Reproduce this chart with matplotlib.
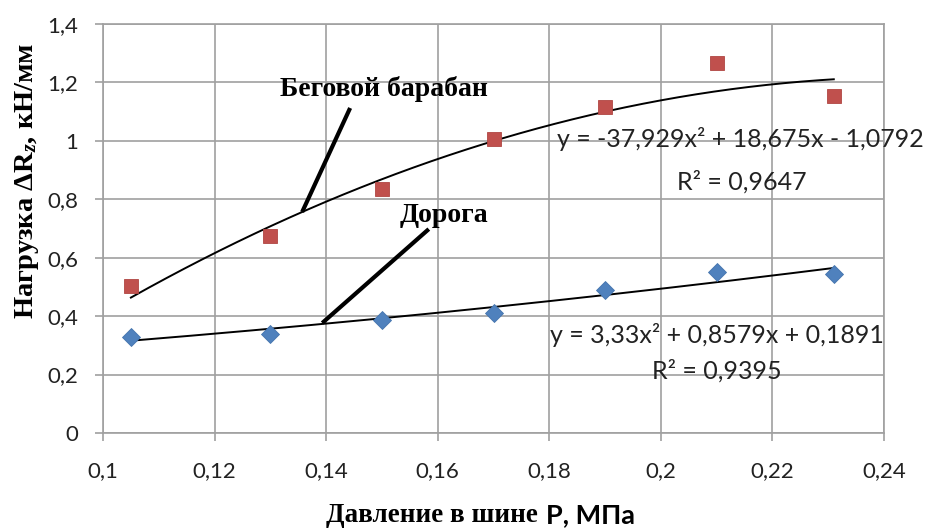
import numpy as np
import matplotlib
matplotlib.use("Agg")
import matplotlib.pyplot as plt

# Measured data
pressure = [0.105, 0.13, 0.15, 0.17, 0.19, 0.21, 0.231]
drum_load = [0.503, 0.674, 0.835, 1.006, 1.116, 1.266, 1.153]
road_load = [0.329, 0.339, 0.387, 0.411, 0.489, 0.551, 0.544]

# Quadratic trend coefficients (a, b, c) for y = a*x^2 + b*x + c
drum_coef = [-37.929, 18.675, -1.0792]
road_coef = [3.33, 0.8579, 0.1891]
drum_r2 = 0.9647
road_r2 = 0.9395

x_ticks = [0.1, 0.12, 0.14, 0.16, 0.18, 0.2, 0.22, 0.24]
y_ticks = [0, 0.2, 0.4, 0.6, 0.8, 1.0, 1.2, 1.4]

plt.rcParams["mathtext.fontset"] = "custom"
plt.rcParams["mathtext.rm"] = "Liberation Serif:bold"
plt.rcParams["mathtext.it"] = "Liberation Serif:italic:bold"
plt.rcParams["mathtext.bf"] = "Liberation Serif:bold"

W, H = 930, 528
fig = plt.figure(figsize=(W / 100, H / 100), dpi=100)
ax = fig.add_axes([103 / W, 1 - 433 / H, (884 - 103) / W, (433 - 24) / H])

grid_c = "#a0a0a0"
ax.set_xlim(0.1, 0.24)
ax.set_ylim(0, 1.4)
ax.set_xticks(x_ticks)
ax.set_yticks(y_ticks)


def comma(v):
    s = f"{v:g}"
    return s.replace(".", ",")


ax.set_xticklabels([comma(v) for v in x_ticks], fontsize=16, family="Lato")
ax.set_yticklabels([comma(v) for v in y_ticks], fontsize=16, family="Lato")
ax.tick_params(axis="both", direction="out", length=6, width=1.2, color=grid_c,
               labelcolor="#222222")
ax.tick_params(axis="y", pad=12)
ax.tick_params(axis="x", pad=14)
ax.grid(True, color=grid_c, linewidth=1.2)
ax.set_axisbelow(True)
for s in ax.spines.values():
    s.set_color(grid_c)
    s.set_linewidth(1.2)

# Trend curves
xs = np.linspace(pressure[0], pressure[-1], 200)
ax.plot(xs, np.polyval(drum_coef, xs), color="black", lw=1.4, zorder=3)
ax.plot(xs, np.polyval(road_coef, xs), color="black", lw=1.4, zorder=3)

# Data points
ax.plot(pressure, drum_load, "s", color="#c0504d", ms=10.5, mec="#b04542", mew=0.6,
        zorder=4, linestyle="none")
ax.plot(pressure, road_load, "D", color="#4f81bd", ms=9, mec="#4574ad", mew=0.6,
        zorder=4, linestyle="none")

# Series captions with leader lines
ax.text(0.1504, 1.1775, "Беговой барабан", family="Liberation Serif", weight="bold",
        fontsize=20, ha="center", va="center")
ax.plot([0.1443, 0.1357], [1.1125, 0.7565], color="black", lw=3, solid_capstyle="butt",
        zorder=5)
ax.text(0.1611, 0.746, "Дорога", family="Liberation Serif", weight="bold",
        fontsize=20, ha="center", va="center")
ax.plot([0.1584, 0.1393], [0.698, 0.3765], color="black", lw=3, solid_capstyle="butt",
        zorder=5)


def eq_text(coef):
    a, b, c = coef
    parts = [f"y = {comma(a)}x²"]
    parts.append(f"+ {comma(abs(b))}x" if b >= 0 else f"- {comma(abs(b))}x")
    parts.append(f"+ {comma(abs(c))}" if c >= 0 else f"- {comma(abs(c))}")
    return " ".join(parts)


def px2data(px, py):
    return (0.1 + (px - 103) / 781 * 0.14, (433 - py) / 409 * 1.4)


eq_style = dict(family="Lato", fontsize=18, color="#222222", ha="center",
                va="center", zorder=6)
ax.text(*px2data(740, 139), eq_text(drum_coef), **eq_style)
ax.text(*px2data(742, 182), f"R² = {comma(drum_r2)}", **eq_style)
ax.text(*px2data(717, 335), eq_text(road_coef), **eq_style)
ax.text(*px2data(717, 371), f"R² = {comma(road_r2)}", **eq_style)

# Axis titles
fig.text(27 / W, 1 - 181 / H, r"Нагрузка Δ$\mathrm{R}_z$, кН/мм", rotation=90,
         family="Liberation Serif", weight="bold", fontsize=20.5,
         ha="center", va="center")
fig.text(538 / W, 1 - 515 / H, "Давление в шине", family="Liberation Serif",
         weight="bold", fontsize=19.5, ha="right", va="center")
fig.text(546 / W, 1 - 515 / H, "P, МПа", family="Lato", weight="bold",
         fontsize=19.5, ha="left", va="center")

fig.savefig("out.png", dpi=100)
